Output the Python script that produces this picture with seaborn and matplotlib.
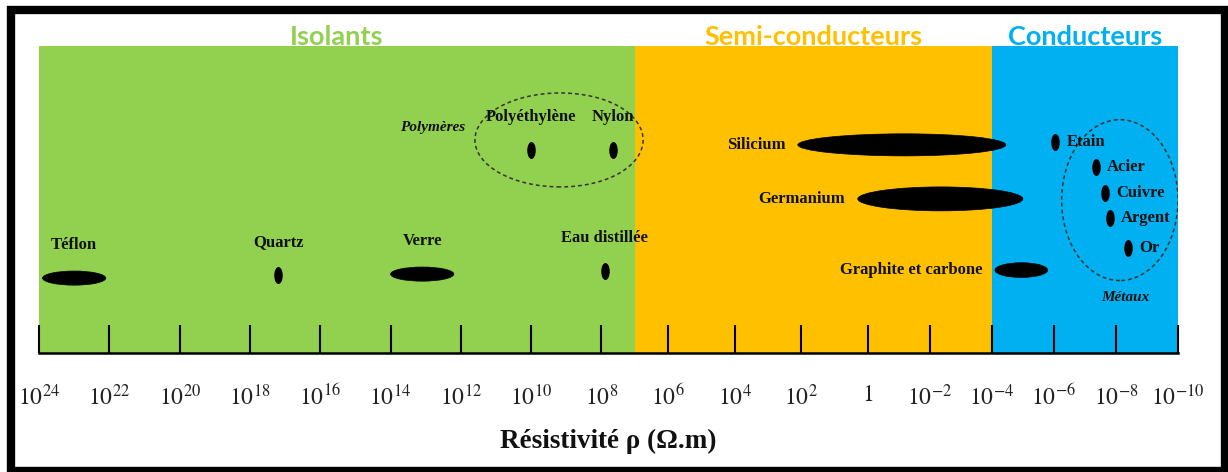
import numpy as np
import pandas as pd
import matplotlib
matplotlib.use("Agg")
import matplotlib.pyplot as plt
from matplotlib.patches import Ellipse, Rectangle
from matplotlib.path import Path
import seaborn as sns

# ---------------- data ----------------
region_names = ["Isolants", "Semi-conducteurs", "Conducteurs"]
region_log_hi = [24, 7, -4]
region_log_lo = [7, -4, -10]
region_colors = ["#92D050", "#FFC000", "#00B0F0"]

materials = ["Téflon", "Quartz", "Verre", "Eau distillée", "Polyéthylène", "Nylon",
             "Silicium", "Germanium", "Graphite et carbone",
             "Etain", "Acier", "Cuivre", "Argent", "Or"]
log_rho_min = [22.1, 17.2, 12.2, 7.9, 10.0, 7.65, -4.45, -5.0, -5.8,
               -6.05, -7.35, -7.65, -7.8, -8.4]
log_rho_max = [23.9, 17.2, 14.0, 7.9, 10.0, 7.65, 2.1, 0.3, -4.1,
               -6.05, -7.35, -7.65, -7.8, -8.4]

group_names = ["Polymères", "Métaux"]
group_log_hi = [11.6, -6.25]
group_log_lo = [6.75, -10.0]

tick_exponents = [24, 22, 20, 18, 16, 14, 12, 10, 8, 6, 4, 2, 0, -2, -4, -6, -8, -10]
tick_labels = ["$10^{24}$", "$10^{22}$", "$10^{20}$", "$10^{18}$", "$10^{16}$",
               "$10^{14}$", "$10^{12}$", "$10^{10}$", "$10^{8}$", "$10^{6}$",
               "$10^{4}$", "$10^{2}$", "$1$", "$10^{-2}$", "$10^{-4}$",
               "$10^{-6}$", "$10^{-8}$", "$10^{-10}$"]
x_label = "Résistivité ρ (Ω.m)"

# ---------------- layout (not data) ----------------
mark_row = [2.44, 2.54, 2.57, 2.67, 6.61, 6.61, 6.78, 5.02, 2.70,
            6.87, 6.06, 5.21, 4.40, 3.42]
mark_height = [0.46, 0, 0.46, 0, 0, 0, 0.72, 0.78, 0.48, 0, 0, 0, 0, 0]
label_side = ["above", "above", "above", "above", "above", "above",
              "left", "left", "left", "right", "right", "right", "right", "right"]
group_row = [6.94, 4.98]
group_height = [3.06, 5.24]
group_label_pos = [(12.8, 7.33), (-8.3, 1.82)]

# axis drawn by hand in the original: decades are slightly compressed to the right
knots_exp = [-10, 0, 8, 24]
knots_rel = [0.0, 310.0, 576.0, 1138.0]

sns.set_theme(style="white")
plt.rcParams["mathtext.fontset"] = "stix"
serif = ["Liberation Serif", "DejaVu Serif"]

fig = plt.figure(figsize=(12.28, 4.72), dpi=100)
ax = fig.add_axes([39 / 1228, 119 / 472, 1139 / 1228, 307 / 472])


def fwd(e):
    return np.interp(np.asarray(e, dtype=float), knots_exp, knots_rel)


def inv(u):
    return np.interp(np.asarray(u, dtype=float), knots_rel, knots_exp)


ax.set_xscale("function", functions=(fwd, inv))

# regions
for name, hi, lo, col in zip(region_names, region_log_hi, region_log_lo, region_colors):
    ax.axvspan(hi, lo, color=col, lw=0, zorder=0)
    mid = inv((fwd(hi) + fwd(lo)) / 2)
    ax.text(mid, 1.004, name, transform=ax.get_xaxis_transform(), ha="center",
            va="baseline", color=col, fontsize=19.5, fontweight="bold",
            family="Lato", clip_on=False)

# range ellipses
for m, lo, hi, r, h in zip(materials, log_rho_min, log_rho_max, mark_row, mark_height):
    if hi > lo:
        ax.add_patch(Ellipse(((lo + hi) / 2, r), hi - lo, h, facecolor="black",
                             edgecolor="black", lw=0.5, zorder=3))

# point markers (vertical ellipses) via seaborn
circ = Path.unit_circle()
ell_marker = Path(circ.vertices * np.array([0.5, 1.0]), circ.codes)
dots = pd.DataFrame({"log_rho": log_rho_min, "row": mark_row, "hi": log_rho_max})
dots = dots[dots["hi"] == dots["log_rho"]]
sns.scatterplot(data=dots, x="log_rho", y="row", marker=ell_marker, s=150,
                color="black", edgecolor="black", linewidth=0, ax=ax,
                legend=False, zorder=4)

# labels
for m, lo, hi, r, side in zip(materials, log_rho_min, log_rho_max, mark_row, label_side):
    if side == "above":
        ax.annotate(m, ((lo + hi) / 2, r), xytext=(0, 24), textcoords="offset points",
                    ha="center", va="center", fontsize=12, fontweight="bold",
                    family=serif, color="#111111")
    elif side == "left":
        ax.annotate(m, (hi, r), xytext=(-9, 0), textcoords="offset points",
                    ha="right", va="center", fontsize=12, fontweight="bold",
                    family=serif, color="#111111")
    else:
        ax.annotate(m, (lo, r), xytext=(8, 0), textcoords="offset points",
                    ha="left", va="center", fontsize=12, fontweight="bold",
                    family=serif, color="#111111")

# group outlines
for g, hi, lo, r, h, (lx, ly) in zip(group_names, group_log_hi, group_log_lo,
                                     group_row, group_height, group_label_pos):
    ax.add_patch(Ellipse(((hi + lo) / 2, r), hi - lo, h, fill=False,
                         edgecolor="#333333", lw=1.1, linestyle=(0, (2.5, 2)), zorder=2))
    ax.text(lx, ly, g, ha="center", va="center", fontsize=11, fontweight="bold",
            fontstyle="italic", family=serif, color="#111111")

# axis styling
for s in ["top", "left", "right"]:
    ax.spines[s].set_visible(False)
ax.spines["bottom"].set_color("black")
ax.spines["bottom"].set_linewidth(1.8)
ax.set_yticks([])
ax.set_ylabel("")
ax.set_xticks(tick_exponents)
ax.set_xticklabels(tick_labels)
ax.minorticks_off()
ax.tick_params(axis="x", direction="in", length=20, width=1.5, color="black",
               pad=23, labelsize=17, labelcolor="#222222", bottom=True)
for t in ax.get_xticklabels():
    t.set_family(serif)
ax.set_xlabel(x_label, fontsize=19.5, fontweight="bold", family=serif,
              labelpad=13, color="#111111")
ax.set_ylim(0, 10)
ax.set_xlim(24, -10)

# outer frame
fig.patches.append(Rectangle((11 / 1228, 1 / 472), 1214 / 1228, 461 / 472,
                             transform=fig.transFigure, fill=False,
                             edgecolor="black", lw=6, zorder=10))

fig.savefig("out.png", dpi=100)
